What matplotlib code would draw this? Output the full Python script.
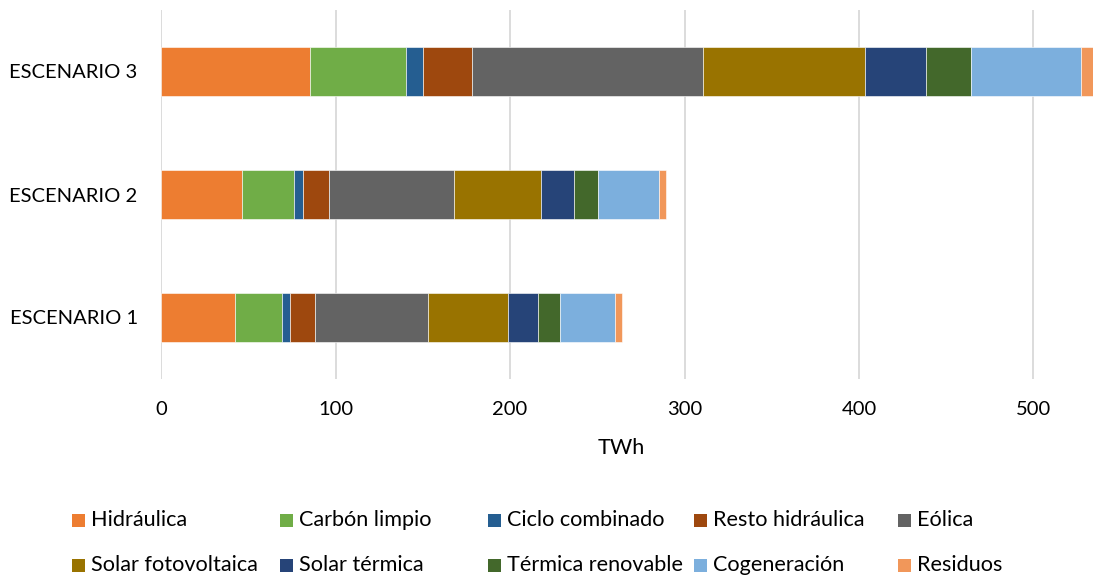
import matplotlib
matplotlib.use("Agg")
import matplotlib.pyplot as plt
from matplotlib.patches import Rectangle
import numpy as np

# Generation by technology for each scenario (TWh)
escenarios = ["ESCENARIO 1", "ESCENARIO 2", "ESCENARIO 3"]
tecnologias = ["Hidráulica", "Carbón limpio", "Ciclo combinado", "Resto hidráulica",
               "Eólica", "Solar fotovoltaica", "Solar térmica", "Térmica renovable",
               "Cogeneración", "Residuos"]

hidraulica        = [42.0, 46.0, 85.0]
carbon_limpio     = [27.0, 30.0, 55.1]
ciclo_combinado   = [5.0, 5.0, 10.0]
resto_hidraulica  = [14.0, 15.4, 28.2]
eolica            = [65.0, 71.5, 132.5]
solar_fv          = [46.0, 50.1, 92.9]
solar_termica     = [17.0, 18.9, 34.8]
termica_renovable = [12.4, 13.6, 25.6]
cogeneracion      = [31.8, 34.6, 63.4]
residuos          = [3.8, 4.2, 8.0]

series = [hidraulica, carbon_limpio, ciclo_combinado, resto_hidraulica, eolica,
          solar_fv, solar_termica, termica_renovable, cogeneracion, residuos]
colores = ["#ED7D31", "#70AD47", "#255E91", "#9E480E", "#636363",
           "#997300", "#264478", "#43682B", "#7CAFDD", "#F1975A"]

plt.rcParams["font.family"] = ["Lato", "DejaVu Sans"]
FS = 14.5
FS_LEG = 15.6

W, H = 1093, 578
fig = plt.figure(figsize=(W / 100, H / 100), dpi=100)
ax = fig.add_axes([161.3 / W, (H - 379) / H, (W - 161.3) / W, 369 / H])

y = np.arange(len(escenarios))
left = np.zeros(len(escenarios))
for vals, col, name in zip(series, colores, tecnologias):
    ax.barh(y, vals, left=left, height=0.405, color=col, label=name,
            edgecolor="#FFFFFF", linewidth=0.4, zorder=3)
    left += np.array(vals)

ax.set_xlim(0, (W - 161.3) / 1.744)
ax.set_ylim(-0.5, 2.5)
ax.set_yticks(y)
ax.set_yticklabels(escenarios)
ax.set_xticks([0, 100, 200, 300, 400, 500])
ax.tick_params(axis="both", length=0, labelsize=FS, colors="#000000")
ax.tick_params(axis="x", pad=16)
ax.tick_params(axis="y", pad=17)
ax.grid(axis="x", color="#D9D9D9", linewidth=1.3, zorder=0)
ax.grid(axis="y", visible=False)
for s in ax.spines.values():
    s.set_visible(False)

ax.set_xlabel("TWh", fontsize=FS_LEG)
ax.xaxis.label.set_va("center")
ax.xaxis.set_label_coords((621 - 161.3) / (W - 161.3), (379 - 448) / 369)

# Legend laid out in five evenly spaced columns, two rows
col_x = [72, 280, 488, 694, 898]
row_y = [520, 565]
sq = 13
for i, (name, col) in enumerate(zip(tecnologias, colores)):
    cx = col_x[i % 5]
    cy = row_y[i // 5]
    fig.add_artist(Rectangle((cx / W, (H - cy - sq / 2) / H), sq / W, sq / H,
                             transform=fig.transFigure, facecolor=col,
                             edgecolor="none"))
    fig.text((cx + sq + 6) / W, (H - cy) / H, name, fontsize=FS_LEG,
             va="center", ha="left", color="#000000")

fig.savefig("out.png", dpi=100)
